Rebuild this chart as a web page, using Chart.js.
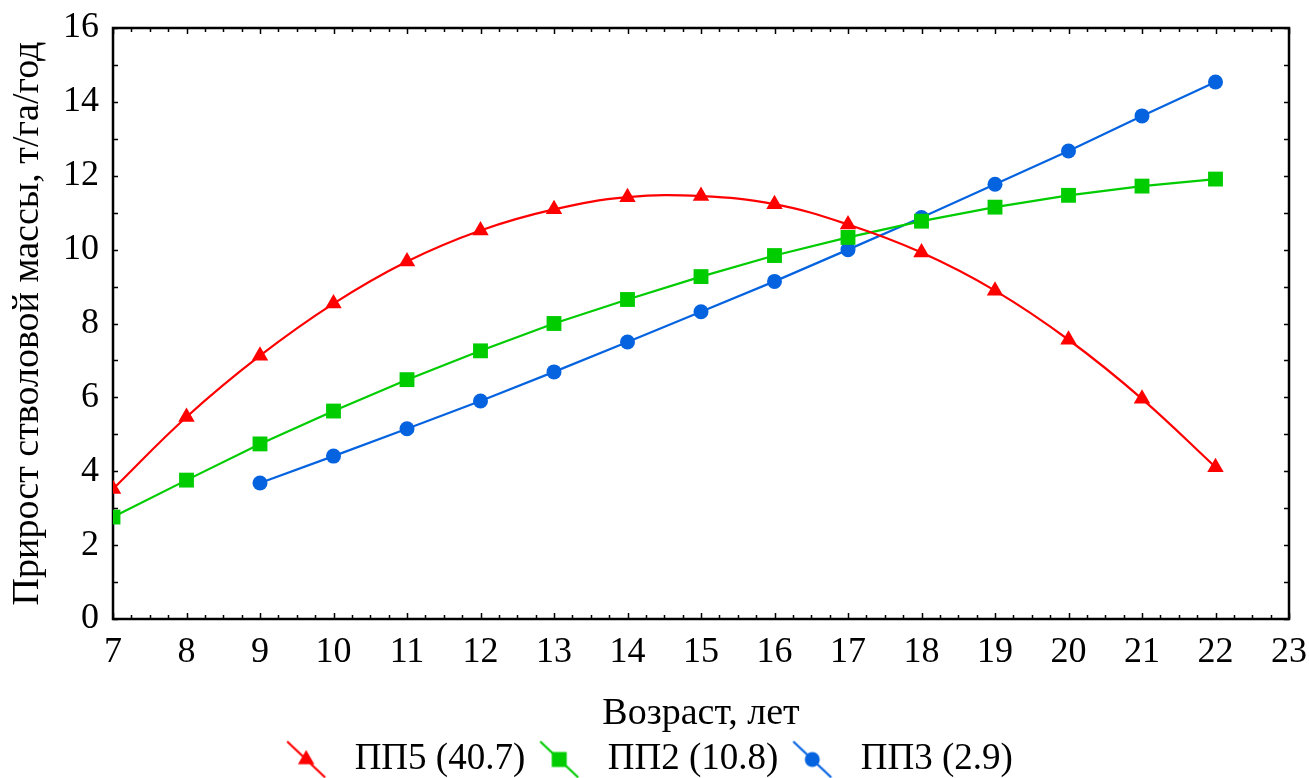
<!DOCTYPE html>
<html>
<head>
<meta charset="utf-8">
<script src="https://cdn.jsdelivr.net/npm/chart.js@4.4.1/dist/chart.umd.min.js"></script>
<style>
html,body{margin:0;padding:0;background:#fff;}
#wrap{width:1309px;height:778px;}
</style>
</head>
<body>
<div id="wrap"><canvas id="c" width="1309" height="778"></canvas></div>
<script>
const ages = [7, 8, 9, 10, 11, 12, 13, 14, 15, 16, 17, 18, 19, 20, 21, 22];
const pp5 = [3.52, 5.47, 7.13, 8.54, 9.68, 10.52, 11.09, 11.42, 11.45, 11.23, 10.68, 9.92, 8.89, 7.56, 5.96, 4.11];
const pp2 = [2.76, 3.76, 4.74, 5.63, 6.48, 7.26, 8.00, 8.65, 9.27, 9.84, 10.33, 10.77, 11.15, 11.47, 11.72, 11.91];
const pp3 = [null, null, 3.68, 4.41, 5.15, 5.90, 6.69, 7.50, 8.32, 9.14, 10.00, 10.87, 11.77, 12.67, 13.62, 14.54];
const seriesNames = ['ПП5 (40.7)', 'ПП2 (10.8)', 'ПП3 (2.9)'];
const xLabel = 'Возраст, лет';
const yLabel = 'Прирост стволовой массы, т/га/год';

const FONT = 'Liberation Serif, Times New Roman, serif';
const colors = ['#ff0000', '#00cc00', '#0563e0'];
const styles = ['triangle', 'rect', 'circle'];
const radii = [9.5, 10.5, 7.5];

function toPoints(arr) {
  return ages.map((a, i) => ({x: a, y: arr[i]})).filter(p => p.y !== null);
}

function legendIcon(color, style) {
  const cv = document.createElement('canvas');
  cv.width = 42; cv.height = 40;
  const g = cv.getContext('2d');
  g.strokeStyle = color; g.lineWidth = 2.2;
  g.beginPath(); g.moveTo(2, 2); g.lineTo(40, 38); g.stroke();
  g.fillStyle = color;
  const cx = 21, cy = 20;
  g.beginPath();
  if (style === 'triangle') {
    const r = 9.5;
    g.moveTo(cx, cy - r);
    g.lineTo(cx + r * 0.866, cy + r * 0.5);
    g.lineTo(cx - r * 0.866, cy + r * 0.5);
    g.closePath();
  } else if (style === 'rect') {
    g.rect(cx - 7.5, cy - 7.5, 15, 15);
  } else {
    g.arc(cx, cy, 7.5, 0, Math.PI * 2);
  }
  g.fill();
  return cv;
}
const icons = colors.map((c, i) => legendIcon(c, styles[i]));

const framePlugin = {
  id: 'frameTicks',
  beforeDatasetsDraw(chart) {
    const {ctx, chartArea: a, scales: {x, y}} = chart;
    ctx.save();
    ctx.strokeStyle = '#000';
    ctx.lineWidth = 1.5;
    ctx.beginPath();
    for (let v = x.min; v <= x.max + 1e-9; v += 0.25) {
      const px = Math.round(x.getPixelForValue(v)) + 0.5;
      const major = Math.abs(v - Math.round(v)) < 1e-9;
      const len = major ? 6 : 4;
      ctx.moveTo(px, a.bottom); ctx.lineTo(px, a.bottom - len);
      ctx.moveTo(px, a.top); ctx.lineTo(px, a.top + len);
    }
    for (let v = y.min; v <= y.max + 1e-9; v += 1) {
      const py = Math.round(y.getPixelForValue(v)) + 0.5;
      ctx.moveTo(a.left, py); ctx.lineTo(a.left + 5, py);
      ctx.moveTo(a.right, py); ctx.lineTo(a.right - 5, py);
    }
    ctx.stroke();
    ctx.lineWidth = 2.5;
    ctx.strokeRect(a.left, a.top, a.right - a.left, a.bottom - a.top);
    ctx.restore();
  }
};

const datasets = [pp5, pp2, pp3].map((arr, i) => ({
  label: seriesNames[i],
  data: toPoints(arr),
  borderColor: colors[i],
  backgroundColor: colors[i],
  borderWidth: 2.2,
  pointStyle: styles[i],
  pointRadius: radii[i],
  pointHoverRadius: radii[i],
  pointBorderWidth: 0,
  tension: i === 0 ? 0.4 : 0,
  fill: false
}));

new Chart(document.getElementById('c'), {
  type: 'line',
  data: {datasets},
  options: {
    responsive: false,
    animation: false,
    devicePixelRatio: 1,
    layout: {padding: {top: 28, right: 20, left: 0, bottom: -10}},
    plugins: {
      tooltip: {enabled: false},
      legend: {
        position: 'bottom',
        labels: {
          usePointStyle: true,
          pointStyleWidth: 60,
          padding: 4,
          color: '#000',
          font: {family: FONT, size: 37},
          generateLabels(chart) {
            return chart.data.datasets.map((d, i) => ({
              text: d.label,
              fillStyle: colors[i],
              strokeStyle: colors[i],
              pointStyle: icons[i],
              fontColor: '#000',
              lineWidth: 0,
              hidden: false,
              datasetIndex: i
            }));
          }
        }
      }
    },
    scales: {
      x: {
        type: 'linear',
        min: 7, max: 23,
        afterFit(s) { s.height = 118; s.paddingLeft = 0; s.paddingRight = 0; },
        ticks: {stepSize: 1, color: '#000', font: {family: FONT, size: 36}, padding: 12, maxRotation: 0},
        grid: {display: false, drawTicks: false},
        border: {display: false},
        title: {display: true, text: xLabel, color: '#000', font: {family: FONT, size: 38}, padding: {top: 0, bottom: 0}}
      },
      y: {
        min: 0, max: 16,
        afterFit(s) { s.width = 113; s.paddingTop = 0; s.paddingBottom = 0; },
        ticks: {stepSize: 2, color: '#000', font: {family: FONT, size: 36}, padding: 14},
        grid: {display: false, drawTicks: false},
        border: {display: false},
        title: {display: true, text: yLabel, color: '#000', font: {family: FONT, size: 38}, padding: {top: 5, bottom: 0}}
      }
    }
  },
  plugins: [framePlugin]
});
</script>
</body>
</html>
